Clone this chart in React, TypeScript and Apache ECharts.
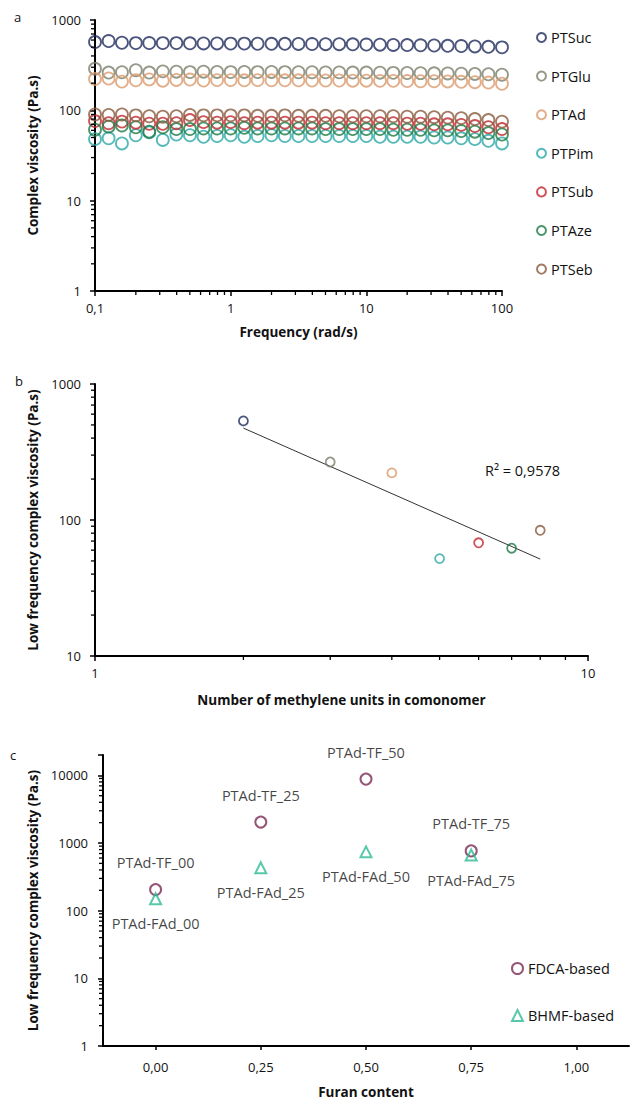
import React, { useEffect, useRef } from "react";
import * as echarts from "echarts";

// ---------- Panel a data ----------
const frequencies = [0.1, 0.126, 0.158, 0.2, 0.251, 0.316, 0.398, 0.501, 0.631, 0.794, 1, 1.26, 1.58, 2, 2.51, 3.16, 3.98, 5.01, 6.31, 7.94, 10, 12.6, 15.8, 20, 25.1, 31.6, 39.8, 50.1, 63.1, 79.4, 100];
const seriesNames = ["PTSuc", "PTGlu", "PTAd", "PTPim", "PTSub", "PTAze", "PTSeb"];
const seriesColors = ["#1f2a5a", "#7b806a", "#db9a6c", "#2aa7a8", "#c0272d", "#1f7a45", "#8a5a3c"];
const PTSuc = [570, 585, 560, 555, 556, 555, 555, 552, 550, 550, 548, 548, 546, 545, 545, 543, 542, 540, 540, 538, 535, 533, 530, 528, 525, 522, 518, 515, 510, 505, 498];
const PTGlu = [288, 262, 264, 278, 262, 270, 268, 265, 268, 266, 265, 266, 265, 266, 265, 264, 264, 263, 263, 262, 262, 261, 260, 259, 258, 257, 256, 255, 253, 251, 248];
const PTAd = [222, 225, 208, 215, 220, 213, 217, 219, 214, 216, 216, 215, 216, 215, 215, 215, 214, 214, 214, 213, 213, 212, 212, 211, 210, 210, 209, 207, 205, 203, 197];
const PTPim = [48, 49, 43, 53, 57, 47, 54, 53, 51, 52, 53, 51, 52, 53, 52, 52, 52, 52, 52, 52, 52, 51, 51, 51, 51, 50, 50, 49, 48, 46, 43];
const PTSub = [76, 72, 75, 73, 71, 71, 72, 78, 74, 73, 74, 72, 73, 73, 73, 73, 73, 72, 72, 72, 72, 72, 72, 71, 71, 70, 70, 69, 67, 65, 62];
const PTAze = [61, 66, 68, 65, 58, 65, 62, 62, 63, 63, 63, 64, 63, 63, 63, 63, 63, 62, 62, 62, 62, 62, 61, 61, 61, 60, 60, 59, 58, 56, 54];
const PTSeb = [90, 89, 90, 88, 86, 85, 86, 89, 88, 88, 88, 88, 87, 87, 88, 87, 87, 87, 86, 86, 86, 86, 86, 85, 85, 84, 83, 82, 80, 78, 75];
const panelAValues = [PTSuc, PTGlu, PTAd, PTPim, PTSub, PTAze, PTSeb];

// ---------- Panel b data ----------
const methyleneUnits = [2, 3, 4, 5, 6, 7, 8];
const lowFreqViscosity = [535, 267, 222, 52, 68, 62, 84];
const trendX = [2, 8];
const trendY = [474, 51.6];
const rSquaredText = "R² = 0,9578";

// ---------- Panel c data ----------
const furanContent = [0, 0.25, 0.5, 0.75];
const fdcaValues = [205, 2040, 8800, 765];
const bhmfValues = [150, 430, 740, 665];
const fdcaLabels = ["PTAd-TF_00", "PTAd-TF_25", "PTAd-TF_50", "PTAd-TF_75"];
const bhmfLabels = ["PTAd-FAd_00", "PTAd-FAd_25", "PTAd-FAd_50", "PTAd-FAd_75"];
const furanTicks = [0, 0.25, 0.5, 0.75, 1];
const fdcaColor = "#7a2a55";
const bhmfColor = "#2dbb95";

// ---------- minor tick values ----------
const minorXa = [0.2, 0.3, 0.4, 0.5, 0.6, 0.7, 0.8, 0.9, 2, 3, 4, 5, 6, 7, 8, 9, 20, 30, 40, 50, 60, 70, 80, 90];
const minorYa = [2, 3, 4, 5, 6, 7, 8, 9, 20, 30, 40, 50, 60, 70, 80, 90, 200, 300, 400, 500, 600, 700, 800, 900];
const minorXb = [2, 3, 4, 5, 6, 7, 8, 9];
const minorYb = [20, 30, 40, 50, 60, 70, 80, 90, 200, 300, 400, 500, 600, 700, 800, 900];
const minorYc = [2, 3, 4, 5, 6, 7, 8, 9, 20, 30, 40, 50, 60, 70, 80, 90, 200, 300, 400, 500, 600, 700, 800, 900, 2000, 3000, 4000, 5000, 6000, 7000, 8000, 9000];

const FONT = "'Open Sans', sans-serif";
const TXT = "#111";

const logLabel = (v: number) => {
  if (v < 1) return String(+v.toPrecision(3)).replace(".", ",");
  const r = Math.round(v);
  const l = Math.log10(r);
  return Math.abs(l - Math.round(l)) < 1e-6 ? String(r) : "";
};

function minorTickSeries(xi: number, yi: number, pts: number[][], dir: "x" | "y") {
  return {
    type: "custom",
    xAxisIndex: xi,
    yAxisIndex: yi,
    silent: true,
    clip: false,
    z: 10,
    data: pts,
    renderItem: (_p: any, api: any) => {
      const p = api.coord([api.value(0), api.value(1)]);
      const shape =
        dir === "y"
          ? { x1: p[0] - 4, y1: p[1], x2: p[0], y2: p[1] }
          : { x1: p[0], y1: p[1], x2: p[0], y2: p[1] + 4 };
      return { type: "line", shape, style: { stroke: "#000", lineWidth: 1.3 } };
    },
  };
}

const axisLine = { show: true, onZero: false, lineStyle: { color: "#000", width: 2 } };
const axisTick = { show: true, length: 5, lineStyle: { color: "#000", width: 1.5 } };
const nameStyle = { fontFamily: FONT, fontWeight: "bold", fontSize: 13.5, color: TXT };
const labelStyle = { fontFamily: FONT, fontSize: 13, color: TXT };

export default function App() {
  const ref = useRef<HTMLDivElement>(null);
  useEffect(() => {
    if (!ref.current) return;
    const chart = echarts.init(ref.current, undefined, { renderer: "svg" });

    const seriesA = seriesNames.map((name, k) => ({
      name,
      type: "scatter",
      xAxisIndex: 0,
      yAxisIndex: 0,
      symbol: "circle",
      symbolSize: 12,
      itemStyle: { color: "rgba(255,255,255,0)", borderColor: seriesColors[k], borderWidth: 1.8 },
      data: frequencies.map((f, i) => [f, panelAValues[k][i]]),
      z: 3,
    }));

    const option: any = {
      animation: false,
      backgroundColor: "#fff",
      textStyle: { fontFamily: FONT },
      grid: [
        { left: 95, top: 20, width: 407, height: 271 },
        { left: 95, top: 384, width: 493, height: 272 },
        { left: 103, top: 755, width: 526, height: 291 },
      ],
      xAxis: [
        {
          type: "log", logBase: 10, min: 0.1, max: 100, gridIndex: 0,
          axisLine, axisTick, splitLine: { show: false },
          axisLabel: { ...labelStyle, margin: 10, formatter: logLabel },
          name: "Frequency (rad/s)", nameLocation: "middle", nameGap: 34, nameTextStyle: nameStyle,
        },
        {
          type: "log", logBase: 10, min: 1, max: 10, gridIndex: 1,
          axisLine, axisTick, splitLine: { show: false },
          axisLabel: { ...labelStyle, margin: 10, formatter: logLabel },
          name: "Number of methylene units in comonomer", nameLocation: "middle", nameGap: 37, nameTextStyle: nameStyle,
        },
        {
          type: "value", min: -0.125, max: 1.125, gridIndex: 2,
          axisLine, axisTick: { ...axisTick, length: 4, customValues: furanTicks }, splitLine: { show: false },
          axisLabel: { ...labelStyle, margin: 14, customValues: furanTicks, formatter: (v: number) => v.toFixed(2).replace(".", ",") },
          name: "Furan content", nameLocation: "middle", nameGap: 39, nameTextStyle: nameStyle,
        },
      ],
      yAxis: [
        {
          type: "log", logBase: 10, min: 1, max: 1000, gridIndex: 0,
          axisLine, axisTick, splitLine: { show: false },
          axisLabel: { ...labelStyle, margin: 14, formatter: logLabel },
          name: "Complex viscosity (Pa.s)", nameLocation: "middle", nameGap: 51, nameTextStyle: nameStyle,
        },
        {
          type: "log", logBase: 10, min: 10, max: 1000, gridIndex: 1,
          axisLine, axisTick, splitLine: { show: false },
          axisLabel: { ...labelStyle, margin: 14, formatter: logLabel },
          name: "Low frequency complex viscosity (Pa.s)", nameLocation: "middle", nameGap: 51, nameTextStyle: nameStyle,
        },
        {
          type: "log", logBase: 10, min: 1, max: 20000, gridIndex: 2,
          axisLine, axisTick, splitLine: { show: false },
          axisLabel: { ...labelStyle, margin: 15, formatter: logLabel },
          name: "Low frequency complex viscosity (Pa.s)", nameLocation: "middle", nameGap: 59, nameTextStyle: nameStyle,
        },
      ],
      legend: [
        {
          data: seriesNames,
          orient: "vertical",
          left: 531,
          top: 25,
          itemWidth: 9,
          itemHeight: 9,
          itemGap: 23.6,
          textStyle: { fontFamily: FONT, fontSize: 14.5, color: TXT, lineHeight: 14 },
        },
        {
          data: ["FDCA-based", "BHMF-based"],
          orient: "vertical",
          left: 506,
          top: 956,
          itemWidth: 11,
          itemHeight: 11,
          itemGap: 32,
          textStyle: { fontFamily: FONT, fontSize: 14.5, color: TXT, lineHeight: 14 },
        },
      ],
      graphic: [
        { type: "text", left: 14, top: 10, style: { text: "a", font: `13px ${FONT}`, fill: TXT } },
        { type: "text", left: 15, top: 374, style: { text: "b", font: `13px ${FONT}`, fill: TXT } },
        { type: "text", left: 10, top: 748, style: { text: "c", font: `13px ${FONT}`, fill: TXT } },
        { type: "text", left: 485, top: 463, style: { text: rSquaredText, font: `14.5px ${FONT}`, fill: TXT } },
      ],
      series: [
        ...seriesA,
        {
          name: "trend",
          type: "line",
          xAxisIndex: 1,
          yAxisIndex: 1,
          symbol: "none",
          lineStyle: { color: "#333", width: 1 },
          data: trendX.map((x, i) => [x, trendY[i]]),
          z: 2,
        },
        {
          name: "lowfreq",
          type: "scatter",
          xAxisIndex: 1,
          yAxisIndex: 1,
          symbol: "circle",
          symbolSize: 9,
          data: methyleneUnits.map((x, i) => ({
            value: [x, lowFreqViscosity[i]],
            itemStyle: { color: "rgba(255,255,255,0)", borderColor: seriesColors[i], borderWidth: 1.8 },
          })),
          z: 3,
        },
        {
          name: "FDCA-based",
          type: "scatter",
          xAxisIndex: 2,
          yAxisIndex: 2,
          symbol: "circle",
          symbolSize: 11,
          itemStyle: { color: "rgba(255,255,255,0)", borderColor: fdcaColor, borderWidth: 2 },
          label: {
            show: true, position: "top", distance: 13,
            fontFamily: FONT, fontSize: 14.5, color: TXT,
            formatter: (p: any) => fdcaLabels[p.dataIndex],
          },
          data: furanContent.map((x, i) => [x, fdcaValues[i]]),
          z: 3,
        },
        {
          name: "BHMF-based",
          type: "scatter",
          xAxisIndex: 2,
          yAxisIndex: 2,
          symbol: "triangle",
          symbolSize: 11,
          itemStyle: { color: "rgba(255,255,255,0)", borderColor: bhmfColor, borderWidth: 2 },
          label: {
            show: true, position: "bottom", distance: 11,
            fontFamily: FONT, fontSize: 14.5, color: TXT,
            formatter: (p: any) => bhmfLabels[p.dataIndex],
          },
          data: furanContent.map((x, i) => [x, bhmfValues[i]]),
          z: 3,
        },
        minorTickSeries(0, 0, minorXa.map((v) => [v, 1]), "x"),
        minorTickSeries(0, 0, minorYa.map((v) => [0.1, v]), "y"),
        minorTickSeries(1, 1, minorXb.map((v) => [v, 10]), "x"),
        minorTickSeries(1, 1, minorYb.map((v) => [1, v]), "y"),
        minorTickSeries(2, 2, minorYc.map((v) => [-0.125, v]), "y"),
      ],
    };
    chart.setOption(option);
    return () => chart.dispose();
  }, []);

  return (
    <div
      ref={ref}
      style={{ position: "absolute", left: 0, top: 0, width: 630, height: 1101, background: "#fff" }}
    />
  );
}
